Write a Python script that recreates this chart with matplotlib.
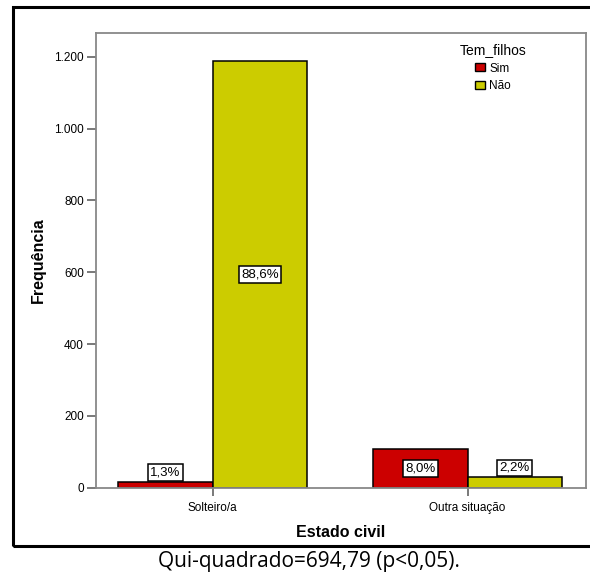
import matplotlib.pyplot as plt
import numpy as np
from matplotlib.patches import Patch, Rectangle
from matplotlib.ticker import FuncFormatter

# Data
categories = ['Solteiro/a', 'Outra situação']
series_names = ['Sim', 'Não']
sim_values = [17, 107]
nao_values = [1188, 29]
pct_sim = ['1,3%', '8,0%']
pct_nao = ['88,6%', '2,2%']
colors = ['#CC0000', '#CCCC00']

plt.rcParams['font.family'] = ['Liberation Sans', 'DejaVu Sans']

W, H = 590, 573
fig = plt.figure(figsize=(W / 100, H / 100), dpi=100)
# axes box: x 95.7..586, y 32.7..487.7 (pixels from top)
ax = fig.add_axes([95.7 / W, (H - 487.7) / H, 490.3 / W, 455 / H])

x = np.arange(len(categories))
w = 0.371
bars_sim = ax.bar(x - w / 2, sim_values, w, color=colors[0], edgecolor='black', linewidth=1.1)
bars_nao = ax.bar(x + w / 2, nao_values, w, color=colors[1], edgecolor='black', linewidth=1.1)

box = dict(boxstyle='square,pad=0.18', fc='white', ec='black', lw=1.1)
for bars, labels in ((bars_sim, pct_sim), (bars_nao, pct_nao)):
    for b, lab in zip(bars, labels):
        h = b.get_height()
        cx = b.get_x() + b.get_width() / 2
        if h > 60:
            ax.text(cx, h / 2, lab, ha='center', va='center', fontsize=9.5, bbox=box)
        else:
            ax.annotate(lab, (cx, h), xytext=(0, 2.4), textcoords='offset points',
                        ha='center', va='bottom', fontsize=9.5, bbox=box)

ax.set_xlim(-0.459, 1.4645)
ax.set_ylim(0, 1267)
ax.set_yticks([0, 200, 400, 600, 800, 1000, 1200])
ax.yaxis.set_major_formatter(FuncFormatter(lambda v, p: f'{int(v):,}'.replace(',', '.')))
ax.set_xticks(x)
ax.set_xticklabels(categories)
ax.tick_params(axis='both', labelsize=8.5, width=1.1, color='#555555', direction='out')
ax.tick_params(axis='y', length=6.5, pad=2)
ax.tick_params(axis='x', length=5.5, pad=5)

for s in ax.spines.values():
    s.set_color('#888888')
    s.set_linewidth(1.3)

ax.set_ylabel('Frequência', fontsize=11.5, fontweight='bold', labelpad=6)
ax.set_xlabel('Estado civil', fontsize=11.5, fontweight='bold', labelpad=8)

handles = [Patch(facecolor=c, edgecolor='black', linewidth=1, label=n)
           for c, n in zip(colors, series_names)]
leg = ax.legend(handles=handles, title='Tem_filhos', loc='upper center',
                bbox_to_anchor=(493 / W, (H - 43) / H), bbox_transform=fig.transFigure,
                frameon=False, fontsize=8.5, title_fontsize=10,
                handlelength=0.85, handleheight=0.68, handletextpad=0.35,
                labelspacing=0.5, borderpad=0, borderaxespad=0)
leg._legend_box.align = 'center'
leg._legend_box.sep = 4

# outer frame
fig.patches.append(Rectangle((12.7 / W, (H - 545.5) / H), 600 / W, 538.2 / H,
                             transform=fig.transFigure, fill=False,
                             edgecolor='black', linewidth=2.2))

fig.text(308.5 / W, (H - 567) / H, 'Qui-quadrado=694,79 (p<0,05).', ha='center',
         va='baseline', fontsize=15, family='Open Sans')

plt.savefig('out.png', dpi=100)
plt.close()
